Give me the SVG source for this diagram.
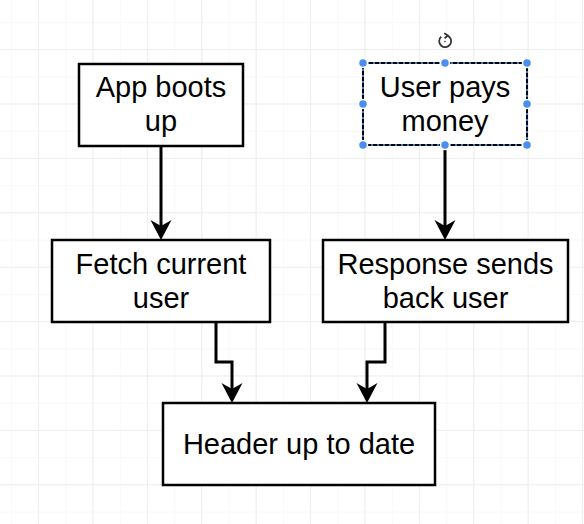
<svg xmlns="http://www.w3.org/2000/svg" width="584" height="524" viewBox="0 0 584 524">
  <defs>
    <pattern id="gridMinor" x="11" y="22" width="27.2" height="27.2" patternUnits="userSpaceOnUse">
      <path d="M0 0.5 H27.2 M0.5 0 V27.2" fill="none" stroke="#f8f8f8" stroke-width="1"/>
    </pattern>
    <pattern id="gridMajor" x="38" y="49" width="54.4" height="54.4" patternUnits="userSpaceOnUse">
      <path d="M0 0.5 H54.4 M0.5 0 V54.4" fill="none" stroke="#eeeeee" stroke-width="1"/>
    </pattern>
    <marker id="ah" markerUnits="userSpaceOnUse" markerWidth="24" markerHeight="24" viewBox="-22 -12 24 24" refX="-14" refY="0" orient="auto">
      <path d="M0 0 L-20 -10.5 L-14 0 L-20 10.5 Z" fill="#000"/>
    </marker>
    <style>
      .box { fill: #fff; stroke: #000; stroke-width: 2.5; }
      .lbl { font-family: "Liberation Sans", Arial, sans-serif; font-size: 29px; fill: #000; text-anchor: middle; }
      .edge { fill: none; stroke: #000; stroke-width: 3; marker-end: url(#ah); }
      .handle { fill: #4a8ff0; stroke: #ffffff; stroke-width: 1.5; }
    </style>
  </defs>

  <rect x="0" y="0" width="584" height="524" fill="#fff"/>
  <rect x="0" y="0" width="584" height="524" fill="url(#gridMinor)"/>
  <rect x="0" y="0" width="584" height="524" fill="url(#gridMajor)"/>

  <g id="connectors">
    <path class="edge" d="M161 146 V226"/>
    <path class="edge" d="M445 146 V226"/>
    <path class="edge" d="M216 322 V362 H232 V389"/>
    <path class="edge" d="M385 322 V362 H367 V389"/>
  </g>

  <g id="app-boots-up">
    <rect class="box" x="79" y="64" width="164" height="82"/>
    <text class="lbl" x="161" y="97">App boots</text>
    <text class="lbl" x="161" y="131">up</text>
  </g>

  <g id="user-pays-money">
    <rect x="363" y="63" width="164" height="82" fill="#fff" stroke="#3d7fd6" stroke-width="2"/>
    <rect x="363" y="63" width="164" height="82" fill="none" stroke="#000" stroke-width="2" stroke-dasharray="4 2"/>
    <text class="lbl" x="445" y="97">User pays</text>
    <text class="lbl" x="445" y="131">money</text>
    <circle class="handle" cx="363" cy="63" r="4.5"/>
    <circle class="handle" cx="445" cy="63" r="4.5"/>
    <circle class="handle" cx="527" cy="63" r="4.5"/>
    <circle class="handle" cx="363" cy="104" r="4.5"/>
    <circle class="handle" cx="527" cy="104" r="4.5"/>
    <circle class="handle" cx="363" cy="145" r="4.5"/>
    <circle class="handle" cx="445" cy="145" r="4.5"/>
    <circle class="handle" cx="527" cy="145" r="4.5"/>
    <g id="rotate-handle" fill="none" stroke="#333" stroke-width="1.8">
      <path d="M447.5 35.6 A6 6 0 1 1 441.2 36.6"/>
      <path d="M444.3 33.2 L447.8 35.6 L444.6 38.2" stroke-linejoin="round"/>
      <circle cx="445" cy="41.5" r="0.8" fill="#333" stroke="none"/>
    </g>
  </g>

  <g id="fetch-current-user">
    <rect class="box" x="52" y="240" width="218" height="82"/>
    <text class="lbl" x="161" y="274">Fetch current</text>
    <text class="lbl" x="161" y="308">user</text>
  </g>

  <g id="response-sends-back-user">
    <rect class="box" x="323" y="240" width="245" height="82"/>
    <text class="lbl" x="445.5" y="274">Response sends</text>
    <text class="lbl" x="445.5" y="308">back user</text>
  </g>

  <g id="header-up-to-date">
    <rect class="box" x="163" y="403" width="272" height="82"/>
    <text class="lbl" x="299" y="454">Header up to date</text>
  </g>
</svg>
